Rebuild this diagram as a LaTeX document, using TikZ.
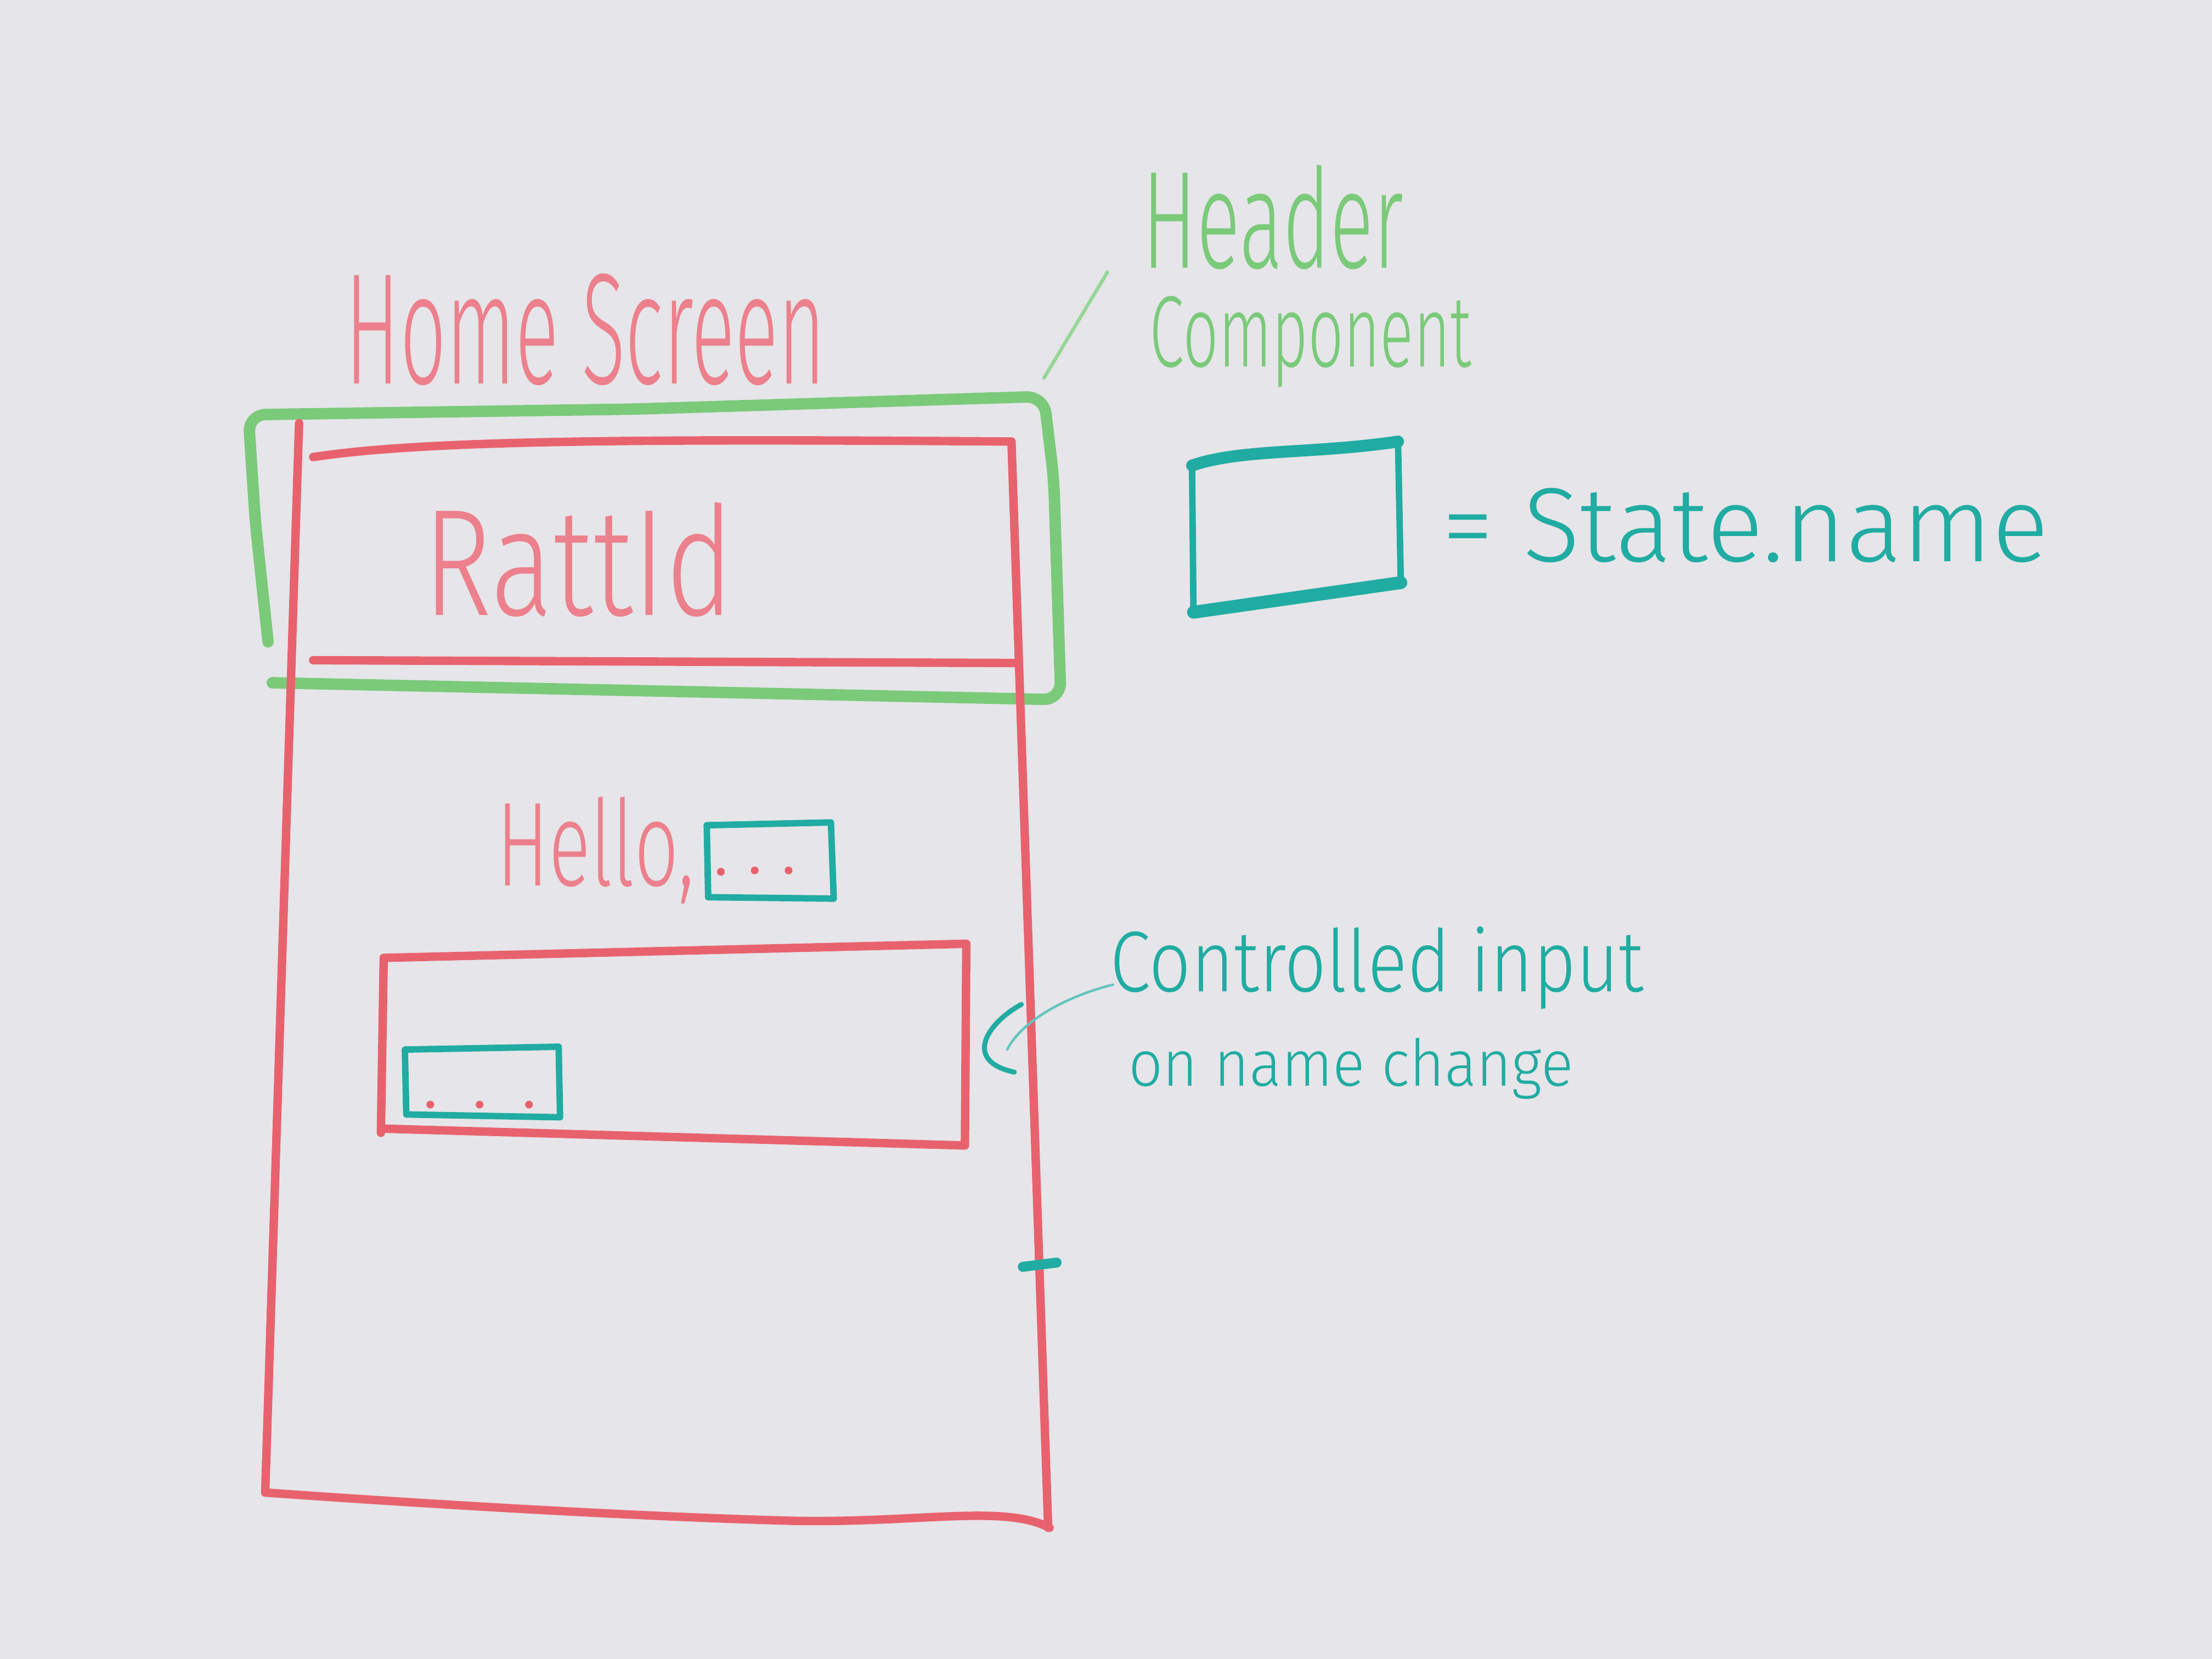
\documentclass[tikz,border=0pt]{standalone}
\usepackage{fontspec}
\usepackage{graphicx}
\newfontfamily\hand{Fira Sans Light}
% marker colours
\definecolor{board}{RGB}{230,229,233}
\definecolor{mred}{RGB}{232,98,110}
\definecolor{mpink}{RGB}{236,128,140}
\definecolor{mgreen}{RGB}{122,202,122}
\definecolor{mgreenlt}{RGB}{150,214,150}
\definecolor{mteal}{RGB}{32,172,162}
% text squeezed into a box of given width and height (cm)
\newcommand{\penword}[3]{\resizebox{#1cm}{#2cm}{\hand #3}}
\begin{document}
\begin{tikzpicture}[x=0.01cm,y=-0.01cm,
  redpen/.style={draw=mred,line width=1.7pt,line cap=round,line join=round},
  greenpen/.style={draw=mgreen,line width=2.3pt,line cap=round,line join=round},
  greenthin/.style={draw=mgreenlt,line width=0.7pt,line cap=round},
  tealpen/.style={draw=mteal,line width=1.3pt,line cap=round,line join=round},
  tealthin/.style={draw=mteal!70,line width=0.5pt,line cap=round},
  word/.style={inner sep=0pt,outer sep=0pt,anchor=base west},
  dot/.style={fill=mred,draw=none,circle,inner sep=0pt,minimum size=0.055cm}]

% whiteboard
\fill[board] (0,0) rectangle (1568,1176);
\useasboundingbox (0,0) rectangle (1568,1176);

% ---- titles ----
\node[word,text=mpink] (home) at (245,272) {\penword{3.40}{0.78}{Home Screen}};
\node[word,text=mgreen] (header) at (810,190) {\penword{1.85}{0.73}{Header}};
\node[word,text=mgreen] (component) at (815,260) {\penword{2.28}{0.50}{Component}};

% leader from the label to the header frame
\coordinate (leadA) at (740,268);
\coordinate (leadB) at (785,193);
\draw[greenthin] (leadA) -- (leadB);

% ---- header component frame (green) ----
\draw[greenpen,rounded corners=3.5pt]
  (190,455) -- (181,370) -- (176,294) -- (450,290) -- (740,281)
  -- (747,340) -- (752,496) -- (193,484);

% ---- phone screen (red) ----
\draw[redpen] (212,300) -- (188,1058);
\draw[redpen] (188,1058) .. controls (300,1066) and (450,1075) .. (560,1078)
  .. controls (650,1080) and (712,1066) .. (744,1083);
\draw[redpen] (717,313) -- (743,1083);
% app bar
\draw[redpen] (222,324) .. controls (300,312) and (450,311) .. (717,313);
\draw[redpen] (222,468) -- (722,470);
\node[word,text=mpink] (title) at (300,436) {\penword{2.20}{0.80}{RattId}};

% greeting
\node[word,text=mpink] (hello) at (352,628) {\penword{1.40}{0.63}{Hello,}};
\draw[tealpen] (501,585) -- (589,583) -- (591,637) -- (502,636) -- cycle;
\node[dot] (hd1) at (511,618) {};
\node[dot] (hd2) at (535,617) {};
\node[dot] (hd3) at (559,617) {};

% input panel
\draw[redpen] (270,803) -- (272,679) -- (685,669) -- (684,812) -- (270,800);
\draw[tealpen] (287,744) -- (396,742) -- (397,792) -- (288,790) -- cycle;
\node[dot] (id1) at (305,783) {};
\node[dot] (id2) at (340,783) {};
\node[dot] (id3) at (375,783) {};

% mark on the right edge
\draw[tealpen,line width=2pt] (725,898) -- (749,895);

% ---- annotation for the input ----
\node[word,text=mteal] (ctrl) at (787,703) {\penword{3.78}{0.46}{Controlled input}};
\node[word,text=mteal] (onname) at (800,770) {\penword{3.15}{0.34}{on name change}};
\coordinate (curveEnd) at (714,744);
\draw[tealthin] (ctrl.base west) ++(2,-5) .. controls (760,705) and (725,722) .. (curveEnd);
\coordinate (parenA) at (724,712);
\coordinate (parenB) at (719,760);
\draw[tealpen,line width=1pt] (parenA) .. controls (700,725) and (682,752) .. (parenB);

% ---- legend: box = state.name ----
\draw[tealpen] (846,434) -- (845,330) .. controls (880,318) and (930,322) .. (991,313)
  -- (993,414);
\draw[tealpen,line width=2.6pt] (846,434) -- (993,413);
\draw[tealpen,line width=2.4pt] (845,330) .. controls (880,318) and (930,322) .. (991,313);
\node[word,text=mteal] (statename) at (1022,398) {\penword{4.30}{0.52}{= State.name}};

\end{tikzpicture}
\end{document}
